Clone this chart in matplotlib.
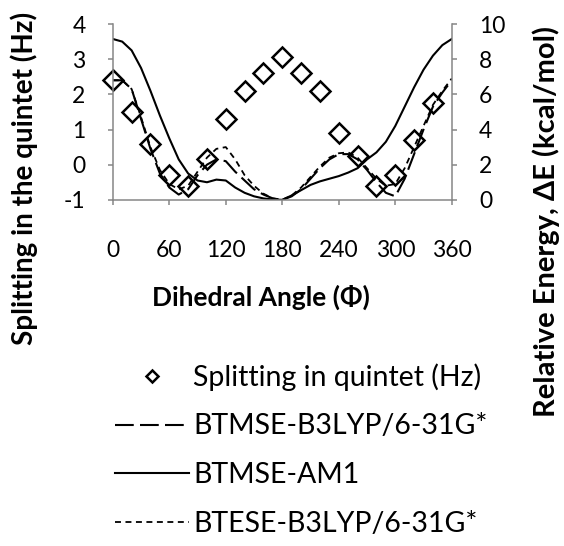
import matplotlib
matplotlib.use('Agg')
import matplotlib.pyplot as plt
from matplotlib.lines import Line2D

plt.rcParams['font.family'] = ['Lato', 'DejaVu Sans']
plt.rcParams['font.size'] = 16.5
plt.rcParams['axes.unicode_minus'] = False

GRAY = '#868686'
LONG_DASH = (9, 3)
SHORT_DASH = (3.3, 2.5)

# dihedral angle (deg) for the NMR splitting points
split_angle = [0, 20, 40, 60, 80, 100, 120, 140, 160, 180,
               200, 220, 240, 260, 280, 300, 320, 340]
split_hz = [2.4, 1.5, 0.6, -0.3, -0.6, 0.15, 1.3, 2.1, 2.6, 3.05,
            2.6, 2.1, 0.9, 0.25, -0.62, -0.3, 0.7, 1.75]

# relative energies (kcal/mol) from the torsion scans
scan_angle = list(range(0, 361, 10))
e_btmse_b3lyp = [6.8, 6.8, 6.3, 4.6, 2.9, 1.5, 0.7, 0.3, 0.6, 1.4,
                 2.0, 2.3, 2.2, 1.6, 1.1, 0.6, 0.3, 0.08, 0.0,
                 0.2, 0.6, 1.2, 1.8, 2.3, 2.6, 2.6, 2.3, 1.7, 1.0,
                 0.4, 0.2, 1.2, 2.6, 4.0, 5.3, 6.1, 6.8]
e_btmse_am1 = [9.15, 9.0, 8.5, 7.5, 6.2, 4.8, 3.5, 2.3, 1.5, 1.1,
               1.0, 1.15, 1.1, 0.7, 0.4, 0.2, 0.08, 0.02, 0.0,
               0.25, 0.55, 0.85, 1.05, 1.2, 1.35, 1.55, 1.8, 2.3, 2.7,
               3.3, 4.2, 5.3, 6.4, 7.4, 8.2, 8.8, 9.15]
e_btese_b3lyp = [6.8, 6.8, 6.3, 4.7, 3.0, 1.7, 0.9, 0.6, 0.8, 1.6,
                 2.4, 2.9, 3.0, 2.3, 1.4, 0.8, 0.35, 0.08, 0.0,
                 0.25, 0.7, 1.3, 1.9, 2.4, 2.65, 2.7, 2.4, 1.8, 1.2,
                 0.8, 0.9, 1.8, 3.0, 4.2, 5.4, 6.2, 6.9]

fig = plt.figure(figsize=(5.64, 5.46), dpi=100)
ax = fig.add_axes([0.200, 0.634, 0.601, 0.322])
ax2 = ax.twinx()

ax2.plot(scan_angle, e_btmse_b3lyp, color='black', lw=1.5,
         dashes=LONG_DASH)
ax2.plot(scan_angle, e_btmse_am1, color='black', lw=1.5)
ax2.plot(scan_angle, e_btese_b3lyp, color='black', lw=1.3,
         dashes=SHORT_DASH)

ax.plot(split_angle, split_hz, ls='none', marker='D', ms=10.5,
        mfc='none', mec='black', mew=1.8, clip_on=False)
ax.set_zorder(ax2.get_zorder() + 1)
ax.patch.set_visible(False)

ax.set_xlim(0, 360)
ax.set_ylim(-1, 4)
ax2.set_ylim(0, 10)
ax.set_xticks(range(0, 361, 60))
ax.set_yticks(range(-1, 5))
ax2.set_yticks(range(0, 11, 2))

for a in (ax, ax2):
    for s in a.spines.values():
        s.set_color(GRAY)
        s.set_linewidth(1.1)
    a.spines['top'].set_visible(False)
    a.tick_params(direction='out', length=3.6, width=1.1, color=GRAY)
ax.spines['right'].set_visible(False)
ax2.spines['left'].set_visible(False)
ax2.spines['bottom'].set_visible(False)
ax.tick_params(axis='y', pad=16)
ax.tick_params(axis='x', pad=25)
ax2.tick_params(axis='y', pad=16)

fig.text(0.463, 0.456, 'Dihedral Angle (Φ)', ha='center', va='center',
         fontsize=19, fontweight='bold')
fig.text(0.043, 0.674, 'Splitting in the quintet (Hz)', rotation=90,
         ha='center', va='center', fontsize=20, fontweight='bold')
fig.text(0.968, 0.595, 'Relative Energy, ΔE (kcal/mol)', rotation=90,
         ha='center', va='center', fontsize=21, fontweight='bold')

handles = [
    Line2D([], [], ls='none', marker='D', ms=6.5, mfc='none',
           mec='black', mew=1.8),
    Line2D([], [], color='black', lw=1.5, dashes=LONG_DASH),
    Line2D([], [], color='black', lw=1.5),
    Line2D([], [], color='black', lw=1.3, dashes=SHORT_DASH),
]
labels = ['Splitting in quintet (Hz)', 'BTMSE-B3LYP/6-31G*',
          'BTMSE-AM1', 'BTESE-B3LYP/6-31G*']
fig.legend(handles, labels, loc='upper left',
           bbox_to_anchor=(0.204, 0.335), frameon=False,
           handlelength=2.6, handletextpad=0.15, labelspacing=0.8,
           borderpad=0, borderaxespad=0, fontsize=20.5)

fig.savefig('out.png', dpi=100)
